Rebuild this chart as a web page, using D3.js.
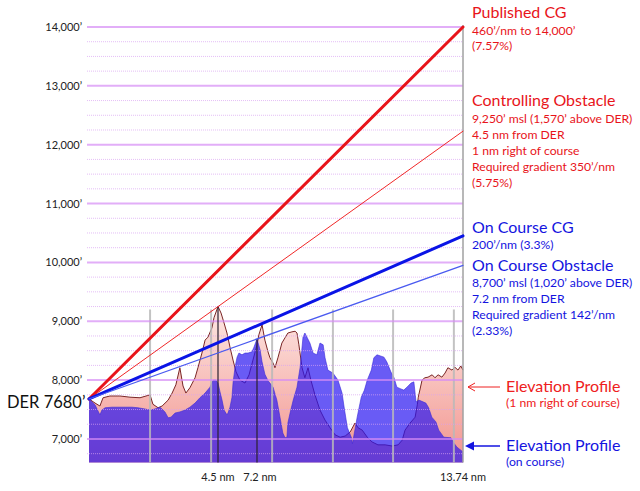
<!DOCTYPE html>
<html>
<head>
<meta charset="utf-8">
<script src="https://cdn.jsdelivr.net/npm/d3@7"></script>
<style>
  body { margin: 0; background: #fff; }
  svg { display: block; font-family: Lato, 'Open Sans', sans-serif; }
</style>
</head>
<body>
<div id="chart"></div>
<script>
// distance marks on the x axis (nm)
const axisDist = [0, 4.5, 7.2, 13.74]
const axisLabels = ['', '4.5 nm', '7.2 nm', '13.74 nm']

// elevation ticks (ft)
const majorTicks = [7000, 8000, 9000, 10000, 11000, 12000, 13000, 14000]
const majorLabels = ['7,000’', '8,000’', '9,000’', '10,000’', '11,000’', '12,000’', '13,000’', '14,000’']
const minorTicks = d3.range(6750, 14000, 250).filter(v => v % 1000 !== 0)

// elevation profile 1 nm right of course
const rightDist = [0, 0.21, 0.38, 0.49, 0.73, 1.08, 1.43, 1.78, 2.13, 2.23, 2.41, 2.55, 2.76, 2.9, 3.03, 3.17, 3.28, 3.38, 3.52, 3.7,
  3.8, 3.94, 4.05, 4.15, 4.29, 4.36, 4.5, 4.71, 4.92, 5.12, 5.33, 5.54, 5.75, 6.02, 6.37, 6.65, 6.92, 7.2, 7.26, 7.36,
  7.45, 7.55, 7.61, 7.71, 7.77, 7.87, 7.99, 8.09, 8.18, 8.31, 8.41, 8.47, 8.53, 8.63, 8.72, 8.82, 8.91, 9.04, 9.2, 9.36,
  9.52, 9.68, 9.84, 10.0, 10.16, 10.31, 10.41, 10.54, 10.7, 10.85, 11.04, 11.27, 11.49, 11.68, 11.81, 11.9, 12.06, 12.22, 12.29, 12.32,
  12.44, 12.53, 12.63, 12.76, 12.85, 12.95, 13.07, 13.17, 13.26, 13.39, 13.48, 13.58, 13.67, 13.74]
const rightElev = [7680, 7610, 7560, 7700, 7730, 7730, 7710, 7700, 7750, 7590, 7530, 7560, 7660, 7780, 7920, 8210, 7900, 7780, 7870, 8040,
  8210, 8460, 8680, 8730, 8890, 9060, 9250, 9140, 8970, 8800, 8560, 8340, 8140, 8000, 7950, 8090, 8340, 8600, 8770, 8940,
  8680, 8480, 8380, 8290, 8210, 8390, 8630, 8720, 8800, 8820, 8830, 8800, 8600, 8210, 8040, 8210, 8000, 7750, 7490, 7320,
  7190, 7070, 7030, 7050, 7120, 7270, 7190, 7150, 7030, 6950, 6900, 6900, 6880, 6900, 6980, 7150, 7270, 7370, 7580, 7710,
  8000, 8040, 8050, 8090, 8040, 8090, 8050, 8120, 8210, 8170, 8220, 8170, 8240, 8170]

// elevation profile on course
const courseDist = [0, 0.21, 0.38, 0.45, 0.56, 0.8, 1.01, 1.26, 1.5, 1.71, 1.95, 2.13, 2.3, 2.48, 2.65, 2.76, 2.86, 3.0, 3.17, 3.35,
  3.52, 3.7, 3.87, 4.05, 4.22, 4.33, 4.43, 4.5, 4.64, 4.78, 4.92, 5.12, 5.19, 5.33, 5.47, 5.54, 5.68, 5.82, 5.95, 6.16,
  6.37, 6.58, 6.85, 6.99, 7.2, 7.3, 7.36, 7.45, 7.55, 7.61, 7.71, 7.83, 7.93, 8.02, 8.09, 8.15, 8.18, 8.25, 8.35, 8.47,
  8.57, 8.66, 8.72, 8.88, 8.98, 9.1, 9.2, 9.3, 9.36, 9.45, 9.61, 9.77, 9.9, 9.98, 10.07, 10.2, 10.23, 10.38, 10.51, 10.61,
  10.7, 10.83, 10.91, 11.01, 11.23, 11.32, 11.45, 11.55, 11.64, 11.77, 11.86, 11.96, 12.09, 12.18, 12.25, 12.34, 12.56, 12.65, 12.75, 12.88,
  12.97, 13.13, 13.36, 13.45, 13.55, 13.74]
const courseElev = [7680, 7580, 7410, 7490, 7530, 7540, 7540, 7540, 7540, 7530, 7510, 7490, 7510, 7540, 7460, 7360, 7370, 7440, 7460, 7490,
  7540, 7610, 7700, 7780, 7880, 8000, 8000, 7950, 7800, 7660, 7490, 7410, 7440, 7540, 7710, 7950, 8220, 8390, 8460, 8430,
  8460, 8460, 8480, 8560, 8700, 8510, 8310, 8100, 7990, 7950, 7880, 7660, 7370, 7100, 7020, 7030, 7270, 7440, 7660, 7880,
  8220, 8730, 8800, 8630, 8460, 8430, 8630, 8600, 8380, 8170, 8120, 8000, 7780, 7490, 7190, 7020, 6920, 7370, 7710, 7830,
  8000, 8170, 8380, 8430, 8390, 8310, 8140, 8040, 7880, 7850, 7830, 7880, 7950, 7970, 7630, 7660, 7610, 7530, 7370, 7290,
  7150, 7030, 7020, 6930, 6860, 6780]

// climb gradients from the DER to the end of the profile
const derElev = 7680
const gradEnds = [14000, 12230, 10450, 9950]

// obstacles and reference verticals
const obstacleDist = [4.5, 7.2]
const obstacleElev = [9250, 8700]
const refDist = [2.13, 4.26, 7.68, 9.61, 11.52, 13.45]
const refTop = 9200

// annotations
const redNotes = [
  ['Published CG', 1], ['460’/nm to 14,000’', 0], ['(7.57%)', 0],
  ['Controlling Obstacle', 1], ['9,250’ msl (1,570’ above DER)', 0], ['4.5 nm from DER', 0],
  ['1 nm right of course', 0], ['Required gradient 350’/nm', 0], ['(5.75%)', 0]
]
const redNoteY = [18, 35, 50, 106, 123, 139, 155, 171, 187]
const blueNotes = [
  ['On Course CG', 1], ['200’/nm (3.3%)', 0],
  ['On Course Obstacle', 1], ['8,700’ msl (1,020’ above DER)', 0], ['7.2 nm from DER', 0],
  ['Required gradient 142’/nm', 0], ['(2.33%)', 0]
]
const blueNoteY = [233, 249, 271, 287, 303, 319, 335]

const width = 640
const height = 491

const svg = d3.select('#chart')
  .append('svg')
  .attr('width', width)
  .attr('height', height)

const x = d3.scaleLinear().domain(axisDist).range([89, 218, 257, 463])
const y = d3.scaleLinear().domain([6600, 14000]).range([462.5, 27])

const defs = svg.append('defs')
const pinkGrad = defs.append('linearGradient')
  .attr('id', 'pink')
  .attr('gradientUnits', 'userSpaceOnUse')
  .attr('x1', 0).attr('x2', 0)
  .attr('y1', y(9250)).attr('y2', y(6600))
pinkGrad.append('stop').attr('offset', '0%').attr('stop-color', '#fde8e4')
pinkGrad.append('stop').attr('offset', '100%').attr('stop-color', '#f2948e')

const rightData = rightDist.map((d, i) => ({ d, e: rightElev[i] }))
const courseData = courseDist.map((d, i) => ({ d, e: courseElev[i] }))

const area = d3.area()
  .x(p => x(p.d))
  .y0(y(6600))
  .y1(p => y(p.e))
const line = d3.line()
  .x(p => x(p.d))
  .y(p => y(p.e))

// right of course profile
svg.append('path')
  .datum(rightData)
  .attr('fill', 'url(#pink)')
  .attr('d', area)
svg.append('path')
  .datum(rightData)
  .attr('fill', 'none')
  .attr('stroke', '#7a2626')
  .attr('stroke-width', 1)
  .attr('d', line)

// on course profile
svg.append('path')
  .datum(courseData)
  .attr('fill', 'rgb(42,22,241)')
  .attr('fill-opacity', 0.7)
  .attr('d', area)
svg.append('path')
  .datum(courseData)
  .attr('fill', 'none')
  .attr('stroke', '#3a2ad8')
  .attr('stroke-opacity', 0.6)
  .attr('stroke-width', 1)
  .attr('d', line)

// reference verticals
svg.append('g')
  .selectAll('line')
  .data(refDist)
  .join('line')
  .attr('x1', d => x(d)).attr('x2', d => x(d))
  .attr('y1', y(refTop)).attr('y2', y(6600))
  .attr('stroke', '#b8b8b8')
  .attr('stroke-opacity', 0.85)
  .attr('stroke-width', 2)

// grid
const grid = svg.append('g')
grid.selectAll('.minor')
  .data(minorTicks)
  .join('line')
  .attr('class', 'minor')
  .attr('x1', x(0) - 2).attr('x2', x(13.74))
  .attr('y1', d => y(d)).attr('y2', d => y(d))
  .attr('stroke', '#d9a2f2')
  .attr('stroke-opacity', 0.7)
  .attr('stroke-width', 1)
  .attr('stroke-dasharray', '1,1')
grid.selectAll('.major')
  .data(majorTicks)
  .join('line')
  .attr('class', 'major')
  .attr('x1', x(0) - 2).attr('x2', x(13.74))
  .attr('y1', d => y(d)).attr('y2', d => y(d))
  .attr('stroke', '#d68cf5')
  .attr('stroke-opacity', 0.7)
  .attr('stroke-width', 2)

// obstacle verticals
svg.append('g')
  .selectAll('line')
  .data(obstacleDist)
  .join('line')
  .attr('x1', d => x(d)).attr('x2', d => x(d))
  .attr('y1', (d, i) => y(obstacleElev[i])).attr('y2', y(6600))
  .attr('stroke', '#2a2030')
  .attr('stroke-width', 1.2)

// right edge
svg.append('line')
  .attr('x1', x(13.74)).attr('x2', x(13.74))
  .attr('y1', y(14000) - 2).attr('y2', y(6600))
  .attr('stroke', '#a0a0a0')
  .attr('stroke-width', 1.5)

// climb gradients
const gradColors = ['#e8141a', '#f02828', '#0a14e6', '#4a5af0']
const gradWidths = [3, 1, 3, 1.2]
svg.append('g')
  .selectAll('line')
  .data(gradEnds)
  .join('line')
  .attr('x1', x(0)).attr('y1', y(derElev))
  .attr('x2', x(13.74)).attr('y2', d => y(d))
  .attr('stroke', (d, i) => gradColors[i])
  .attr('stroke-width', (d, i) => gradWidths[i])
  .attr('stroke-linecap', 'round')

// y axis labels
svg.append('g')
  .selectAll('text')
  .data(majorTicks)
  .join('text')
  .attr('x', 82)
  .attr('y', d => y(d))
  .attr('dy', '0.36em')
  .attr('text-anchor', 'end')
  .attr('font-size', 11)
  .attr('fill', '#222')
  .text((d, i) => majorLabels[i])

svg.append('text')
  .attr('x', 7)
  .attr('y', y(derElev) + 9)
  .attr('font-size', 16.5)
  .attr('fill', '#111')
  .text('DER 7680’')

// x axis labels
svg.append('g')
  .selectAll('text')
  .data(axisDist.slice(1))
  .join('text')
  .attr('x', (d, i) => x(d) + (i === 1 ? 3 : 0))
  .attr('y', 481)
  .attr('text-anchor', 'middle')
  .attr('font-size', 11)
  .attr('fill', '#222')
  .text((d, i) => axisLabels[i + 1])

// annotations
function notes (list, ys, color) {
  svg.append('g')
    .selectAll('text')
    .data(list)
    .join('text')
    .attr('x', 472)
    .attr('y', (d, i) => ys[i])
    .attr('font-size', d => d[1] ? 16 : 12.2)
    .attr('fill', color)
    .text(d => d[0])
}
notes(redNotes, redNoteY, '#e8141a')
notes(blueNotes, blueNoteY, '#1414e0')

// profile legend
const legend = [
  { label: 'Elevation Profile', sub: '(1 nm right of course)', ly: 387, color: '#ee2020' },
  { label: 'Elevation Profile', sub: '(on course)', ly: 446, color: '#1414e0' }
]
legend.forEach((l, i) => {
  svg.append('text')
    .attr('x', 506).attr('y', l.ly + 5)
    .attr('font-size', 16)
    .attr('fill', l.color)
    .text(l.label)
  svg.append('text')
    .attr('x', 506).attr('y', l.ly + 20)
    .attr('font-size', 12.2)
    .attr('fill', l.color)
    .text(l.sub)
  svg.append('line')
    .attr('x1', 500).attr('x2', 468)
    .attr('y1', l.ly).attr('y2', l.ly)
    .attr('stroke', l.color)
    .attr('stroke-width', i === 0 ? 1 : 1.5)
  if (i === 0) {
    svg.append('path')
      .attr('d', `M${475},${l.ly - 4}L${468},${l.ly}L${475},${l.ly + 4}`)
      .attr('fill', 'none')
      .attr('stroke', l.color)
      .attr('stroke-width', 1)
  } else {
    svg.append('path')
      .attr('d', `M${474},${l.ly - 4.5}L${465},${l.ly}L${474},${l.ly + 4.5}Z`)
      .attr('fill', l.color)
  }
})
</script>
</body>
</html>
